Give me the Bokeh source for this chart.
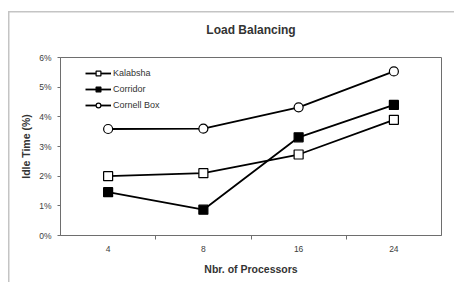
from bokeh.plotting import figure
from bokeh.models import (FixedTicker, NumeralTickFormatter, Range1d, Legend,
                          LegendItem, Title)
from bokeh.embed import file_html
from bokeh.resources import INLINE

# ---- data ----
processors = ["4", "8", "16", "24"]
kalabsha = [0.020, 0.021, 0.0273, 0.039]
corridor = [0.0146, 0.0087, 0.0331, 0.044]
cornell_box = [0.0359, 0.0360, 0.0432, 0.0553]
y_ticks = [0.0, 0.01, 0.02, 0.03, 0.04, 0.05, 0.06]

FONT = "Liberation Sans"
TXT = "#333333"

xpos = [i + 0.5 for i in range(len(processors))]

p = figure(width=454, height=282, output_backend="svg", toolbar_location=None,
           x_range=Range1d(0, len(processors)), y_range=Range1d(0, 0.06),
           min_border_left=60, min_border_right=13, min_border_top=56,
           min_border_bottom=47)
p.title = None
p.add_layout(Title(text="Load Balancing", align="center", text_font=FONT,
                   text_font_size="12px", text_font_style="bold",
                   text_color=TXT, standoff=41), "above")

p.background_fill_color = "white"
p.border_fill_color = None
# outer chart border (light grey, top and left visible)
p.styles = {
    "background": "linear-gradient(#c4c4c4,#c4c4c4) 8px 11px / 1.5px 100% no-repeat, "
                  "linear-gradient(#c4c4c4,#c4c4c4) 8px 11px / 100% 1.5px no-repeat, white"
}
p.outline_line_color = "#6e6e6e"
p.outline_line_width = 1
p.xgrid.visible = False
p.ygrid.visible = False

# x axis
xt = FixedTicker(ticks=xpos, minor_ticks=list(range(1, len(processors))))
p.xaxis.ticker = xt
p.xaxis.major_label_overrides = {x: lab for x, lab in zip(xpos, processors)}
p.xaxis.major_tick_out = 0
p.xaxis.major_tick_in = 0
p.xaxis.minor_tick_out = 4
p.xaxis.minor_tick_in = 0
p.xaxis.axis_label = "Nbr. of Processors"

# y axis
p.yaxis.ticker = FixedTicker(ticks=y_ticks)
p.yaxis.formatter = NumeralTickFormatter(format="0%")
p.yaxis.major_tick_out = 3
p.yaxis.major_tick_in = 0
p.yaxis.minor_tick_line_color = None
p.yaxis.axis_label = "Idle Time (%)"

for ax in (p.xaxis[0], p.yaxis[0]):
    ax.axis_line_color = "#6e6e6e"
    ax.major_tick_line_color = "#6e6e6e"
    ax.major_label_text_font = FONT
    ax.major_label_text_font_size = "8.5px"
    ax.major_label_text_color = "#3c3c3c"
    ax.axis_label_text_font = FONT
    ax.axis_label_text_font_size = "10.5px"
    ax.axis_label_text_font_style = "bold"
    ax.axis_label_text_color = TXT
    ax.major_label_standoff = 6
p.xaxis.minor_tick_line_color = "#6e6e6e"
p.xaxis.axis_label_standoff = 8
p.yaxis.axis_label_standoff = 4

LW = 1.8
r1l = p.line(xpos, kalabsha, line_color="black", line_width=LW)
r1m = p.scatter(xpos, kalabsha, marker="square", size=9, fill_color="white",
                line_color="black", line_width=1.2)
r2l = p.line(xpos, corridor, line_color="black", line_width=LW)
r2m = p.scatter(xpos, corridor, marker="square", size=9, fill_color="black",
                line_color="black", line_width=1.2)
r3l = p.line(xpos, cornell_box, line_color="black", line_width=LW)
r3m = p.scatter(xpos, cornell_box, marker="circle", size=9, fill_color="white",
                line_color="black", line_width=1.2)

legend = Legend(items=[
    LegendItem(label="Kalabsha", renderers=[r1l, r1m]),
    LegendItem(label="Corridor", renderers=[r2l, r2m]),
    LegendItem(label="Cornell Box", renderers=[r3l, r3m]),
], location=(25, 124), border_line_color=None, background_fill_alpha=0,
    label_text_font=FONT, label_text_font_size="9px", label_text_color=TXT,
    glyph_width=26, glyph_height=12, spacing=4, label_standoff=2,
    padding=0, margin=0)
p.add_layout(legend)

open("out.html", "w").write(file_html(p, INLINE))
